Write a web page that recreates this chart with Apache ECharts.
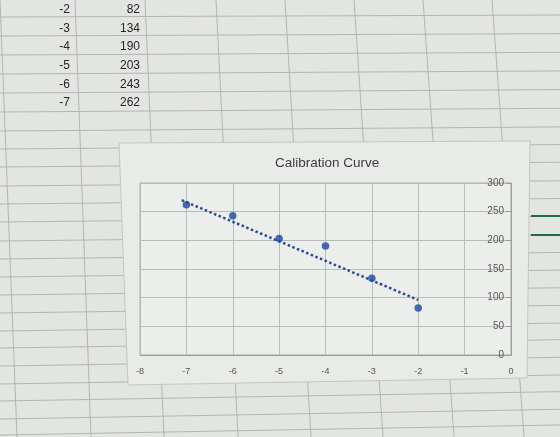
<!DOCTYPE html>
<html>
<head>
<meta charset="utf-8">
<script src="https://cdn.jsdelivr.net/npm/echarts@6/dist/echarts.min.js"></script>
<style>
html,body{margin:0;padding:0;background:#e3e5e2;}
#chart{width:560px;height:437px;}
</style>
</head>
<body>
<div id="chart"></div>
<script>
// ---- data ----
var concX = [-2, -3, -4, -5, -6, -7];
var signalY = [82, 134, 190, 203, 243, 262];
var trendX = [-7.1, -2];
var trendY = [270, 96];
var chartTitle = 'Calibration Curve';
var xTicks = [-8, -7, -6, -5, -4, -3, -2, -1, 0];
var yTicks = [0, 50, 100, 150, 200, 250, 300];

// ---- spreadsheet backdrop (decoration) ----
var decor = [];
var colTop = [0, 75, 145, 216, 285, 354, 423, 492];
var colBot = [17, 91, 164, 238, 311, 383, 454, 524];
for (var i = 0; i < colTop.length; i++) {
  decor.push({type:'line', z:-10, silent:true,
    shape:{x1:colTop[i], y1:0, x2:colBot[i], y2:437},
    style:{stroke:'#b3b5b2', lineWidth:1}});
}
var rowLeft = [17,36,55,74,93,112,131,149,167,186,204,222,241,259,277,295,313,331,348,366,384,401,419,435];
for (var j = 0; j < rowLeft.length; j++) {
  var drop = 2 + j * 0.35;
  decor.push({type:'line', z:-10, silent:true,
    shape:{x1:0, y1:rowLeft[j], x2:560, y2:rowLeft[j] - drop},
    style:{stroke:'#b3b5b2', lineWidth:1}});
}
// chart area box
decor.push({type:'polygon', z:-5, silent:true,
  shape:{points:[[119,143],[530,141],[527,378],[128,385]]},
  style:{fill:'#e9ebe8', stroke:'#c4c6c3', lineWidth:1}});
// green selection marks at right edge
decor.push({type:'line', z:-4, silent:true, shape:{x1:531,y1:216,x2:560,y2:216}, style:{stroke:'#1f6b45', lineWidth:2}});
decor.push({type:'line', z:-4, silent:true, shape:{x1:531,y1:235,x2:560,y2:235}, style:{stroke:'#1f6b45', lineWidth:2}});
// table text
var rowMid = [10, 29, 47, 66, 85, 103];
for (var k = 0; k < concX.length; k++) {
  decor.push({type:'text', z:5, silent:true,
    style:{text:String(concX[k]), x:70, y:rowMid[k], textAlign:'right', textVerticalAlign:'middle',
      font:'12px "Liberation Sans", Arial, sans-serif', fill:'#262626'}});
  decor.push({type:'text', z:5, silent:true,
    style:{text:String(signalY[k]), x:140, y:rowMid[k], textAlign:'right', textVerticalAlign:'middle',
      font:'12px "Liberation Sans", Arial, sans-serif', fill:'#262626'}});
}

var scatterData = concX.map(function (x, i) { return [x, signalY[i]]; });
var trendData = trendX.map(function (x, i) { return [x, trendY[i]]; });

var chart = echarts.init(document.getElementById('chart'), null, {renderer:'canvas'});
chart.setOption({
  backgroundColor: '#e3e5e2',
  animation: false,
  title: {
    text: chartTitle,
    left: 270, top: 151,
    textStyle: {fontFamily:'"Liberation Sans", Arial, sans-serif', fontSize:13.5, fontWeight:'normal', color:'#3d3d3d'}
  },
  graphic: decor,
  grid: {left:140, right:49, top:183, bottom:82, show:true, backgroundColor:'#eceeeb', borderColor:'#a9aba8', borderWidth:1},
  xAxis: {
    type:'value', min:xTicks[0], max:xTicks[xTicks.length-1], interval:1,
    axisLine:{show:true, lineStyle:{color:'#9a9c99'}},
    axisTick:{show:false},
    splitLine:{show:true, lineStyle:{color:'#b9bbb8', width:1}},
    axisLabel:{fontSize:9, color:'#555', margin:12, fontFamily:'"Liberation Sans", Arial, sans-serif'}
  },
  yAxis: {
    type:'value', position:'right', min:yTicks[0], max:yTicks[yTicks.length-1], interval:50,
    axisLine:{show:true, onZero:false, lineStyle:{color:'#9a9c99'}},
    axisTick:{show:true, inside:true, length:5, lineStyle:{color:'#9a9c99'}},
    splitLine:{show:true, lineStyle:{color:'#b9bbb8', width:1}},
    axisLabel:{inside:true, fontSize:10, color:'#555', margin:7, fontFamily:'"Liberation Sans", Arial, sans-serif'}
  },
  series: [
    {type:'line', data:trendData, symbol:'none', z:3,
      lineStyle:{color:'#2a4a96', width:2.5, type:[2.5,2.5], cap:'butt'}},
    {type:'scatter', data:scatterData, symbolSize:7.5, z:4,
      itemStyle:{color:'#1a4aa3'}}
  ]
});
</script>
</body>
</html>
